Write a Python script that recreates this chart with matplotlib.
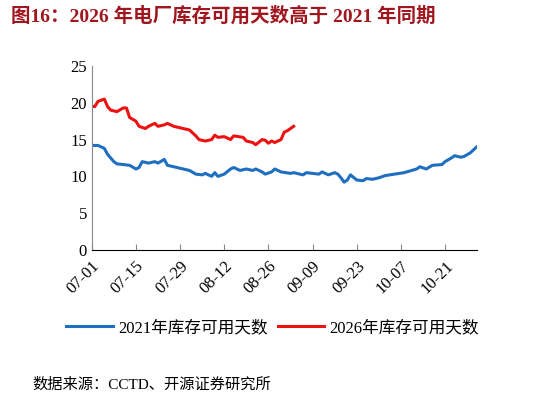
import datetime as dt
import matplotlib
matplotlib.use("Agg")
import matplotlib.pyplot as plt

plt.rcParams['font.family'] = ['Liberation Serif', 'Noto Sans CJK SC']

start = dt.date(2021, 7, 1)

blue_days = [0, 2, 4, 5, 7, 8, 12, 14, 15, 16,
             18, 20, 21, 23, 24, 26, 29, 31, 33, 35,
             36, 38, 39, 40, 42, 44, 45, 47, 49, 51,
             52, 54, 55, 57, 58, 60, 63, 64, 67, 68,
             70, 72, 73, 75, 77, 78, 79, 80, 81, 82,
             84, 86, 87, 89, 91, 93, 96, 99, 103, 104,
             106, 108, 111, 112, 114, 115, 117, 118, 120, 122]
blue_vals = [14.2, 14.2, 13.8, 13.0, 12.0, 11.7, 11.5, 11.0, 11.2, 12.0,
             11.8, 12.0, 11.8, 12.3, 11.5, 11.3, 11.0, 10.8, 10.3, 10.2,
             10.4, 10.0, 10.5, 10.0, 10.3, 11.0, 11.2, 10.8, 11.0, 10.8,
             11.0, 10.6, 10.3, 10.6, 11.0, 10.6, 10.4, 10.5, 10.2, 10.5,
             10.4, 10.3, 10.6, 10.2, 10.5, 10.3, 9.8, 9.2, 9.5, 10.2,
             9.5, 9.4, 9.7, 9.6, 9.8, 10.1, 10.3, 10.5, 11.0, 11.3,
             11.0, 11.5, 11.6, 12.0, 12.5, 12.8, 12.6, 12.7, 13.2, 14.0]

red_days = [0, 1, 2, 4, 5, 6, 8, 10, 11, 12,
            14, 15, 17, 18, 20, 21, 23, 24, 26, 29,
            31, 33, 34, 36, 38, 39, 40, 42, 44, 45,
            48, 49, 51, 52, 54, 55, 56, 57, 58, 60,
            61, 62, 63, 64]
red_vals = [19.5, 19.5, 20.2, 20.5, 19.5, 19.0, 18.8, 19.3, 19.3, 18.0,
            17.5, 16.8, 16.5, 16.8, 17.2, 16.8, 17.0, 17.2, 16.8, 16.5,
            16.3, 15.5, 15.0, 14.8, 15.0, 15.6, 15.3, 15.4, 15.0, 15.5,
            15.3, 14.8, 14.6, 14.3, 15.0, 14.9, 14.5, 14.8, 14.6, 15.0,
            16.0, 16.2, 16.5, 16.8]

tick_labels = ["07-01", "07-15", "07-29", "08-12", "08-26", "09-09", "09-23", "10-07", "10-21"]

blue_x = [start + dt.timedelta(days=d) for d in blue_days]
red_x = [start + dt.timedelta(days=d) for d in red_days]
tick_x = [start + dt.timedelta(days=14 * i) for i in range(len(tick_labels))]

fig = plt.figure(figsize=(5.46, 4.05), dpi=100)
ax = fig.add_axes([0.168, 0.383, 0.705, 0.454])
ax.plot(blue_x, blue_vals, color="#1f6fc0", lw=2.2, label="2021年库存可用天数")
ax.plot(red_x, red_vals, color="#ee1111", lw=2.2, label="2026年库存可用天数")

ax.set_ylim(0, 25)
ax.set_yticks(range(0, 26, 5))
ax.set_xlim(start, start + dt.timedelta(days=122.5))
ax.set_xticks(tick_x)
ax.set_xticklabels(tick_labels, rotation=45, ha="right", rotation_mode="anchor")
ax.tick_params(labelsize=12, length=0)
ax.tick_params(axis="x", length=4, direction="in", color="#888888", pad=6)
for s in ["top", "right"]:
    ax.spines[s].set_visible(False)
ax.spines["left"].set_color("#888888")
ax.spines["bottom"].set_color("black")

ax.legend(loc="upper center", bbox_to_anchor=(0.47, -0.3), ncol=2, frameon=False,
          fontsize=12, handlelength=2.8, columnspacing=0.6, handletextpad=0.3)

fig.text(0.02, 0.96, "图16：2026 年电厂库存可用天数高于 2021 年同期", color="#a0161e",
         fontsize=14, fontweight="bold", va="center")
fig.text(0.06, 0.05, "数据来源：CCTD、开源证券研究所", fontsize=11, va="center")

fig.savefig("out.png")
